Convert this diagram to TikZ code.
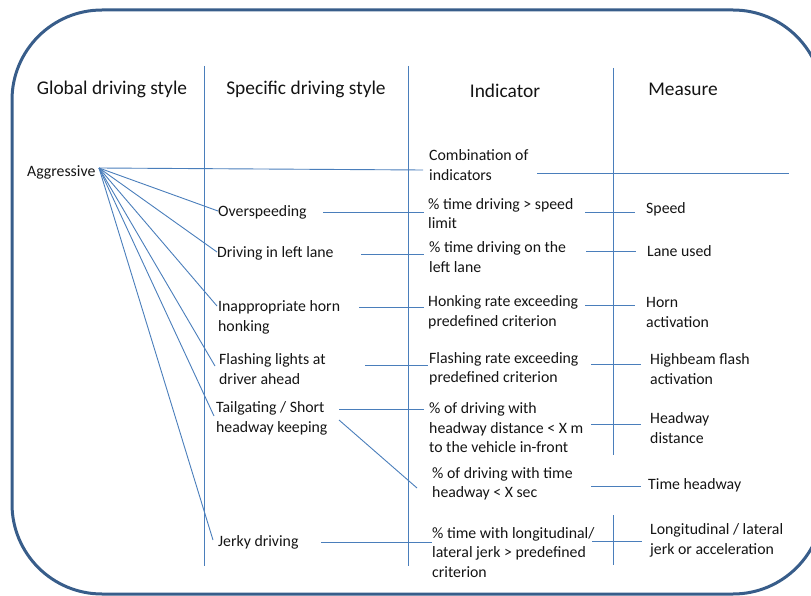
\documentclass[tikz,border=0pt]{standalone}
\usepackage{fontspec}
\setmainfont{Carlito}
\definecolor{framec}{HTML}{385D8A}
\definecolor{lnc}{HTML}{4A7EBB}
\definecolor{txtc}{HTML}{141414}
\begin{document}
\begin{tikzpicture}[x=1pt,y=-1pt,
  lnk/.style={draw=lnc,line width=0.9pt},
  divider/.style={draw=lnc,line width=0.9pt},
  head/.style={font=\fontsize{19.4}{23}\selectfont,text=txtc,inner sep=0,yshift=-1.5pt},
  lbl/.style={font=\fontsize{15.8}{19.5}\selectfont,text=txtc,inner sep=0,align=left,anchor=west,yshift=-1.5pt}]
\useasboundingbox (0,0) rectangle (811,596);
\draw[framec,line width=3pt,rounded corners=90pt] (12,10) rectangle (823,594);

% column dividers
\draw[divider] (204,66) -- (204,566);
\draw[divider] (408,66) -- (408,566);
\draw[divider] (613,68) -- (613,455);
\draw[divider] (613,515) -- (613,565);

% headers
\node[head] (h1) at (112,88) {Global driving style};
\node[head] (h2) at (306,88) {Specific driving style};
\node[head] (h3) at (505,89) {Indicator};
\node[head] (h4) at (683,88) {Measure};

% global
\node[lbl] (agg) at (27,171) {Aggressive};
\coordinate (aggo) at (99,168);

% specific
\node[lbl] (over) at (218,211) {Overspeeding};
\node[lbl] (lane) at (217,252) {Driving in left lane};
\node[lbl] (horn) at (218,316) {Inappropriate horn\\honking};
\node[lbl] (flash) at (219,367.5) {Flashing lights at\\driver ahead};
\node[lbl] (tail) at (216,417) {Tailgating / Short\\headway keeping};
\node[lbl] (jerk) at (218,541) {Jerky driving};

% indicators
\node[lbl] (comb) at (429,163.5) {Combination of\\indicators};
\node[lbl] (i1) at (428,212) {\% time driving > speed\\limit};
\node[lbl] (i2) at (429,255.5) {\% time driving on the\\left lane};
\node[lbl] (i3) at (428,311) {Honking rate exceeding\\predefined criterion};
\node[lbl] (i4) at (429,367.5) {Flashing rate exceeding\\predefined criterion};
\node[lbl] (i5) at (429,426.5) {\% of driving with\\headway distance < X m\\to the vehicle in-front};
\node[lbl] (i6) at (432,482.5) {\% of driving with time\\headway < X sec};
\node[lbl] (i7) at (432,551) {\% time with longitudinal/\\lateral jerk > predefined\\criterion};

% measures
\node[lbl] (m1) at (646,208) {Speed};
\node[lbl] (m2) at (647,250) {Lane used};
\node[lbl] (m3) at (646,311) {Horn\\activation};
\node[lbl] (m4) at (650,367.5) {Highbeam flash\\activation};
\node[lbl] (m5) at (650,426.5) {Headway\\distance};
\node[lbl] (m6) at (648,484) {Time headway};
\node[lbl] (m7) at (650,539) {Longitudinal / lateral\\jerk or acceleration};

% connector end points
\coordinate (combin) at (423,170);
\coordinate (overin) at (218,211);
\coordinate (lanein) at (217,252);
\coordinate (hornin) at (217,306);
\coordinate (flashin) at (215,366);
\coordinate (tailin) at (214,416);
\coordinate (jerkin) at (213,540);

\coordinate (s1) at (323,212); \coordinate (e1) at (424,212);
\coordinate (s2) at (361,254); \coordinate (e2) at (424,254);
\coordinate (s3) at (359,307); \coordinate (e3) at (424,307);
\coordinate (s4) at (365,365); \coordinate (e4) at (428,365);
\coordinate (s5) at (339,409); \coordinate (e5) at (424,409);
\coordinate (s5b) at (339,420); \coordinate (e6) at (417,488);
\coordinate (s6) at (321,542); \coordinate (e7) at (432,542);

\coordinate (c0) at (537,173); \coordinate (d0) at (789,173);
\coordinate (c1) at (585,212); \coordinate (d1) at (635,212);
\coordinate (c2) at (586,251); \coordinate (d2) at (636,251);
\coordinate (c3) at (585,305); \coordinate (d3) at (635,305);
\coordinate (c4) at (591,364); \coordinate (d4) at (641,364);
\coordinate (c5) at (591,424); \coordinate (d5) at (641,424);
\coordinate (c6) at (591,486); \coordinate (d6) at (641,486);
\coordinate (c7) at (592,541); \coordinate (d7) at (642,541);

% fan from Aggressive
\draw[lnk] (aggo) -- (combin);
\draw[lnk] (aggo) -- (overin);
\draw[lnk] (aggo) -- (lanein);
\draw[lnk] (aggo) -- (hornin);
\draw[lnk] (aggo) -- (flashin);
\draw[lnk] (aggo) -- (tailin);
\draw[lnk] (aggo) -- (jerkin);

% specific -> indicator
\draw[lnk] (s1) -- (e1);
\draw[lnk] (s2) -- (e2);
\draw[lnk] (s3) -- (e3);
\draw[lnk] (s4) -- (e4);
\draw[lnk] (s5) -- (e5);
\draw[lnk] (s5b) -- (e6);
\draw[lnk] (s6) -- (e7);

% indicator -> measure
\draw[lnk] (c0) -- (d0);
\draw[lnk] (c1) -- (d1);
\draw[lnk] (c2) -- (d2);
\draw[lnk] (c3) -- (d3);
\draw[lnk] (c4) -- (d4);
\draw[lnk] (c5) -- (d5);
\draw[lnk] (c6) -- (d6);
\draw[lnk] (c7) -- (d7);
\end{tikzpicture}
\end{document}
